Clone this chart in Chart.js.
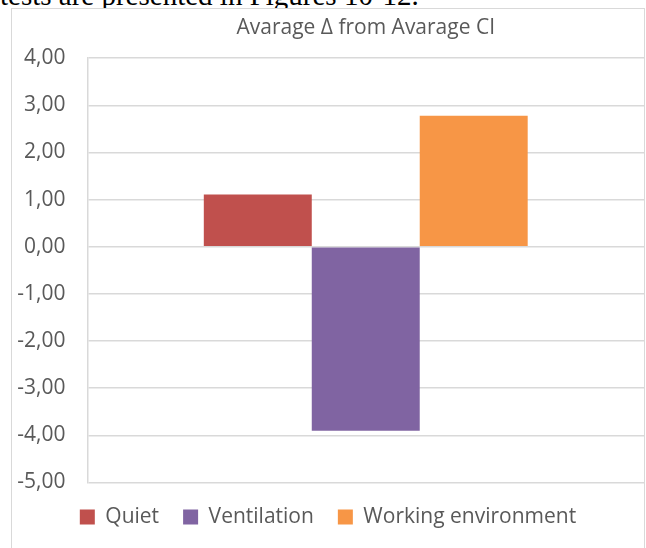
<!DOCTYPE html>
<html>
<head>
<meta charset="utf-8">
<script src="https://cdn.jsdelivr.net/npm/chart.js@4/dist/chart.umd.min.js"></script>
<style>
  body { margin: 0; background: #fff; width: 646px; height: 548px; overflow: hidden; position: relative; }
  .above { position: absolute; left: 0; top: -19px; font-family: "Liberation Serif", serif; font-size: 29px; line-height: 29px; color: #000; white-space: nowrap; }
  .box { position: absolute; left: 11px; top: 8px; width: 632px; height: 560px; border: 1.5px solid #d9d9d9; background: #fff; }
  .box canvas { position: absolute; left: 0; top: 0; }
</style>
</head>
<body>
<div class="above">tests are presented in Figures 10-12.</div>
<div class="box"><canvas id="chart-one" width="632" height="539"></canvas></div>
<script>
// data
var categories = [""];
var seriesNames = ["Quiet", "Ventilation", "Working environment"];
var seriesValues = [[1.11], [-3.90], [2.78]];
var seriesColors = ["#c0504d", "#8064a2", "#f79646"];
var chartTitle = "Avarage \u0394 from Avarage CI";

var ds = [];
for (var i = 0; i < seriesNames.length; i++) {
  ds.push({
    label: seriesNames[i],
    data: seriesValues[i],
    backgroundColor: seriesColors[i],
    barPercentage: 1,
    categoryPercentage: 0.582
  });
}

new Chart("chart-one", {
  type: "bar",
  data: { labels: categories, datasets: ds },
  options: {
    responsive: false,
    animation: false,
    layout: { padding: { left: 0, right: 0, top: 0, bottom: 10.5 } },
    plugins: {
      title: {
        display: true,
        fullSize: false,
        text: chartTitle,
        color: "#595959",
        font: { family: "Open Sans", size: 21, weight: "normal" },
        padding: { top: 6.5, bottom: 17.5 }
      },
      legend: {
        position: "bottom",
        labels: {
          color: "#595959",
          font: { family: "Open Sans", size: 21 },
          boxWidth: 15,
          boxHeight: 15,
          padding: 24
        }
      },
      tooltip: { enabled: false }
    },
    scales: {
      x: {
        display: false
      },
      y: {
        min: -5,
        max: 4,
        afterFit: function (scale) { scale.width = 75.5; },
        ticks: {
          stepSize: 1,
          color: "#595959",
          font: { family: "Open Sans", size: 21 },
          padding: 22,
          callback: function (v) { return v.toFixed(2).replace(".", ","); }
        },
        grid: { color: "#d9d9d9", lineWidth: 1.5, drawTicks: false },
        border: { display: true, color: "#d9d9d9", width: 1.5 }
      }
    }
  }
});
</script>
</body>
</html>
